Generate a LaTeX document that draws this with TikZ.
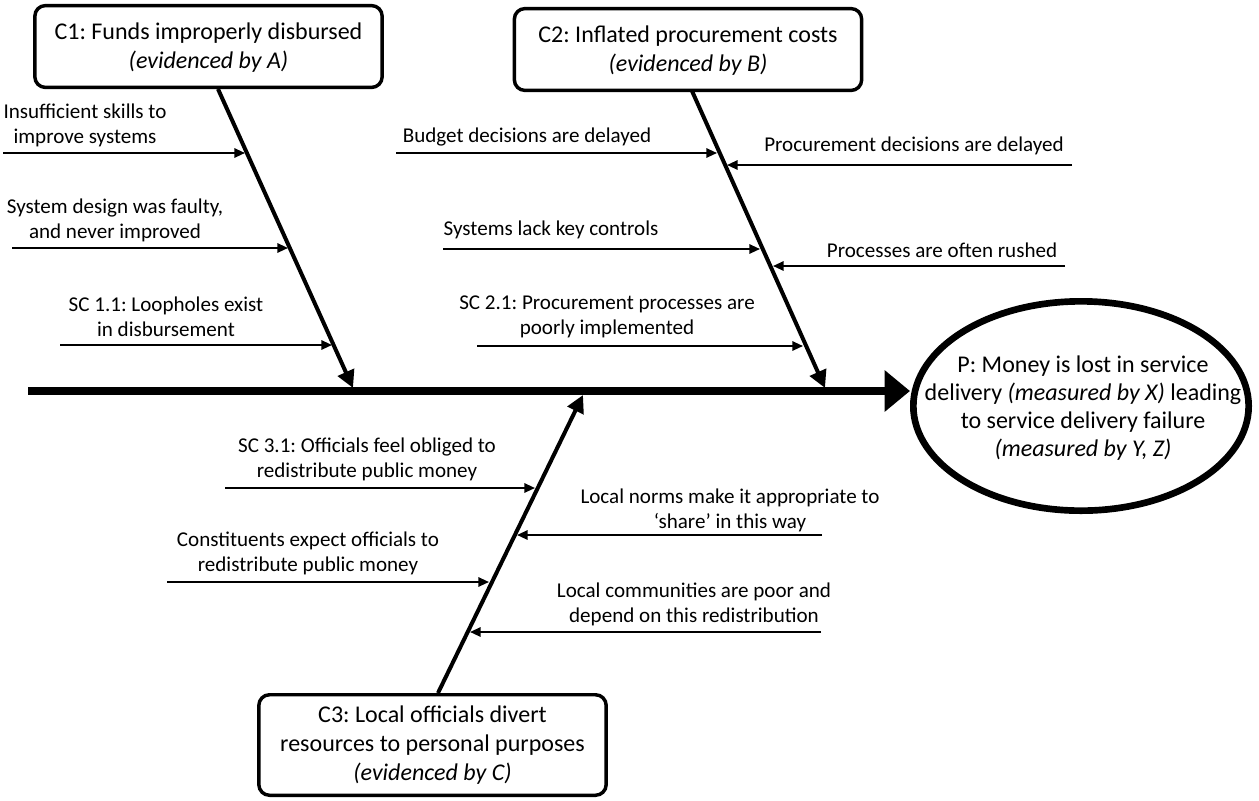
\documentclass[tikz,border=0pt]{standalone}
\usepackage{fontspec}
\setmainfont{Carlito}
\frenchspacing
\usetikzlibrary{arrows.meta,shapes.geometric}
\begin{document}
\begin{tikzpicture}[x=0.75pt,y=-0.75pt,
  cause/.style={draw, line width=2.6pt, rounded corners=8pt, minimum width=260.5pt, align=center, font=\fontsize{18}{21.75}\selectfont, inner sep=0pt},
  ptext/.style={align=center, font=\fontsize{18}{21}\selectfont, inner sep=0pt},
  lbl/.style={align=center, font=\fontsize{15.8}{18.8}\selectfont, inner sep=0pt},
  bone/.style={line width=3pt, -{Triangle[length=13pt,width=13pt]}},
  sub/.style={line width=1.5pt, -{Triangle[length=8pt,width=7pt]}},
  spine/.style={line width=6pt, -{Triangle[length=19pt,width=30pt]}},
]
\useasboundingbox (0,0) rectangle (1259,800);

% cause boxes
\node[cause, minimum height=61.4pt, text depth=1.5pt] (C1) at (208.5,46.5) {C1: Funds improperly disbursed\\\textit{(evidenced by A)}};
\node[cause, minimum height=61.4pt, text depth=1.5pt] (C2) at (688,49.5) {C2: Inflated procurement costs\\\textit{(evidenced by B)}};
\node[cause, minimum height=75.4pt] (C3) at (432.5,745) {C3: Local officials divert\\resources to personal purposes\\\textit{(evidenced by C)}};

% problem ellipse
\node[ellipse, draw, line width=5pt, minimum width=251.5pt, minimum height=157pt, inner sep=0pt] (P) at (1081,406) {};
\node[ptext] (Pt) at (1083,408) {P: Money is lost in service\\delivery \textit{(measured by X)} leading\\to service delivery failure\\\textit{(measured by Y, Z)}};

% spine
\coordinate (s0) at (28,391);
\draw[spine] (s0) -- (s0 -| P.west);

% bones
\coordinate (c1a) at (218,89);  \coordinate (c1b) at (353,388);
\coordinate (c2a) at (692,91);  \coordinate (c2b) at (825,388);
\coordinate (c3a) at (438,693); \coordinate (c3b) at (583,395);
\draw[bone] (c1a) -- (c1b);
\draw[bone] (c2a) -- (c2b);
\draw[bone] (c3a) -- (c3b);

% labels C1
\node[lbl] (l1a) at (85,125) {Insufficient skills to\\improve systems};
\node[lbl] (l1b) at (115,220) {System design was faulty,\\and never improved};
\node[lbl] (l1c) at (166,317) {SC 1.1: Loopholes exist\\in disbursement};
% labels C2
\node[lbl] (l2a) at (527,137) {Budget decisions are delayed};
\node[lbl] (l2b) at (914,146) {Procurement decisions are delayed};
\node[lbl] (l2c) at (551,230) {Systems lack key controls};
\node[lbl] (l2d) at (942,250) {Processes are often rushed};
\node[lbl] (l2e) at (607,317) {SC 2.1: Procurement processes are\\poorly implemented};
% labels C3
\node[lbl] (l3a) at (367,459) {SC 3.1: Officials feel obliged to\\redistribute public money};
\node[lbl] (l3b) at (730,510) {Local norms make it appropriate to\\‘share’ in this way};
\node[lbl] (l3c) at (308,553) {Constituents expect officials to\\redistribute public money};
\node[lbl] (l3d) at (694,604) {Local communities are poor and\\depend on this redistribution};

% sub-cause arrows C1
\coordinate (a1s) at (3,153);   \coordinate (a1e) at (245,153);
\coordinate (b1s) at (12,248);  \coordinate (b1e) at (288,248);
\coordinate (d1s) at (60,345);  \coordinate (d1e) at (332,345);
\draw[sub] (a1s) -- (a1e);
\draw[sub] (b1s) -- (b1e);
\draw[sub] (d1s) -- (d1e);
% sub-cause arrows C2
\coordinate (a2s) at (396,153);  \coordinate (a2e) at (717,153);
\coordinate (b2s) at (1072,165); \coordinate (b2e) at (727,165);
\coordinate (c2s) at (443,249);  \coordinate (c2e) at (760,249);
\coordinate (d2s) at (1065,266); \coordinate (d2e) at (773,266);
\coordinate (e2s) at (477,346);  \coordinate (e2e) at (803,346);
\draw[sub] (a2s) -- (a2e);
\draw[sub] (b2s) -- (b2e);
\draw[sub] (c2s) -- (c2e);
\draw[sub] (d2s) -- (d2e);
\draw[sub] (e2s) -- (e2e);
% sub-cause arrows C3
\coordinate (a3s) at (225,488); \coordinate (a3e) at (535,488);
\coordinate (b3s) at (822,535); \coordinate (b3e) at (517,535);
\coordinate (c3s) at (167,582); \coordinate (c3e) at (489,582);
\coordinate (d3s) at (821,632); \coordinate (d3e) at (470,632);
\draw[sub] (a3s) -- (a3e);
\draw[sub] (b3s) -- (b3e);
\draw[sub] (c3s) -- (c3e);
\draw[sub] (d3s) -- (d3e);
\end{tikzpicture}
\end{document}
